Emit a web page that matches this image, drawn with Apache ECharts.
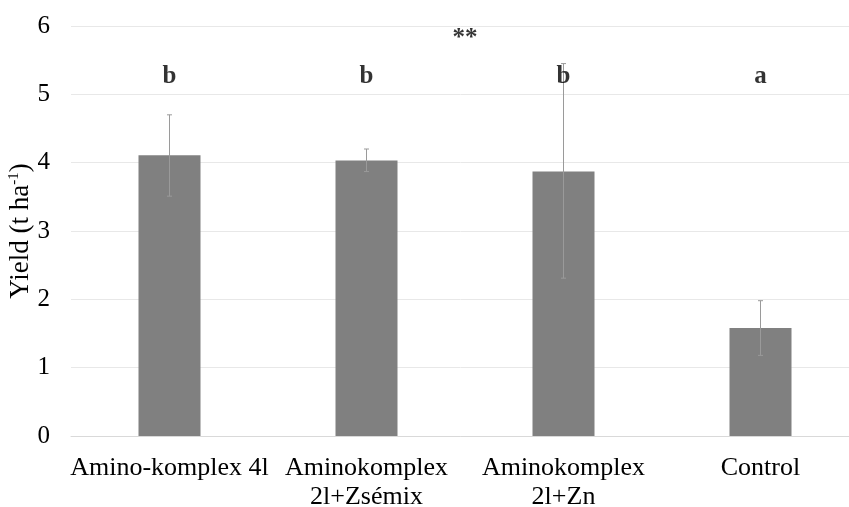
<!DOCTYPE html>
<html>
<head>
<meta charset="utf-8">
<script src="https://cdn.jsdelivr.net/npm/echarts@6/dist/echarts.min.js"></script>
<style>
  html, body { margin: 0; padding: 0; background: #fff; }
  #chart { width: 849px; height: 507px; }
</style>
</head>
<body>
<div id="chart"></div>
<script>
// data
const categories = ['Amino-komplex 4l', 'Aminokomplex\n2l+Zsémix', 'Aminokomplex\n2l+Zn', 'Control'];
const yieldMean = [4.11, 4.03, 3.87, 1.58];
const errLow = [3.51, 3.87, 2.31, 1.18];
const errHigh = [4.70, 4.20, 5.45, 1.98];
const groupLetters = ['b', 'b', 'b', 'a'];
const letterY = 5.26;
const starText = '**';
const starPos = [1.5, 5.81];

const font = "'Liberation Serif'";

let chart = echarts.init(document.getElementById('chart'));

let errData = categories.map((c, i) => [i, errLow[i], errHigh[i]]);
let letterData = groupLetters.map((l, i) => ({ value: [i, letterY], label: { formatter: l } }));
letterData.push({ value: starPos, label: { formatter: starText } });

let option = {
  animation: false,
  grid: { left: 71, top: 26, width: 788, height: 410, containLabel: false, outerBoundsMode: 'none' },
  xAxis: [
    {
      type: 'category',
      data: categories,
      axisLine: { lineStyle: { color: '#d9d9d9', width: 1 } },
      axisTick: { show: false },
      axisLabel: { interval: 0, hideOverlap: false, color: '#000', fontFamily: font, fontSize: 26, margin: 18, lineHeight: 29 }
    },
    {
      type: 'value', min: -0.5, max: 3.5, show: false
    }
  ],
  yAxis: {
    type: 'value',
    min: 0, max: 6, interval: 1,
    name: '{n|Yield (t ha}{s|-1}{n|)}',
    nameLocation: 'middle',
    nameGap: 36,
    nameMoveOverlap: false,
    nameTextStyle: {
      rich: {
        n: { fontFamily: font, fontSize: 27, color: '#000' },
        s: { fontFamily: font, fontSize: 15, color: '#000', padding: [0, 0, 13, 0] }
      }
    },
    axisLine: { show: false },
    axisTick: { show: false },
    splitLine: { lineStyle: { color: '#e8e8e8', width: 1 } },
    axisLabel: { color: '#000', fontFamily: font, fontSize: 25, margin: 21 }
  },
  series: [
    {
      type: 'bar',
      data: yieldMean,
      barWidth: 62,
      itemStyle: { color: '#808080' },
      z: 2
    },
    {
      type: 'custom',
      data: errData,
      z: 3,
      renderItem: function (params, api) {
        let x = api.coord([api.value(0), api.value(1)])[0];
        let lo = api.coord([api.value(0), api.value(1)])[1];
        let hi = api.coord([api.value(0), api.value(2)])[1];
        let style = { stroke: '#9a9a9a', lineWidth: 1 };
        return {
          type: 'group',
          children: [
            { type: 'line', shape: { x1: x, y1: hi, x2: x, y2: lo }, style: style },
            { type: 'line', shape: { x1: x - 2.5, y1: hi, x2: x + 2.5, y2: hi }, style: style },
            { type: 'line', shape: { x1: x - 2.5, y1: lo, x2: x + 2.5, y2: lo }, style: style }
          ]
        };
      }
    },
    {
      type: 'scatter',
      xAxisIndex: 1,
      data: letterData,
      symbolSize: 0,
      label: {
        show: true,
        position: 'inside',
        fontFamily: font,
        fontSize: 25,
        fontWeight: 'bold',
        color: '#000'
      },
      z: 4
    }
  ]
};

chart.setOption(option);
</script>
</body>
</html>
